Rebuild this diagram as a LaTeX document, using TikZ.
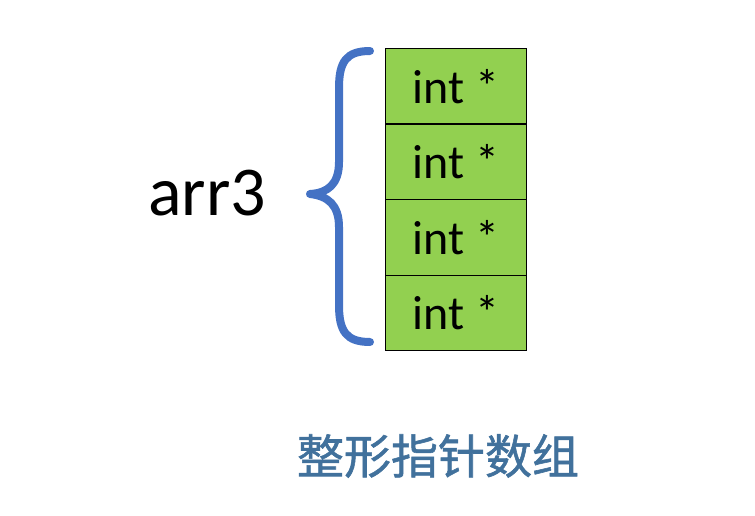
\documentclass[tikz,border=0pt]{standalone}
\usepackage{fontspec}
\setmainfont{Carlito}
\newfontfamily\cjk[FakeBold=1.2]{Noto Sans CJK SC}
\usepackage{tikz}
\usetikzlibrary{positioning}
\usepackage{xcolor}
\definecolor{cellgreen}{HTML}{92D050}
\definecolor{braceblue}{HTML}{4472C4}
\definecolor{titleblue}{HTML}{41719C}

\begin{document}
\begin{tikzpicture}[
    x=1pt, y=-1pt,
    cellnode/.style={draw=black, line width=1.2pt, fill=cellgreen, minimum width=141pt, minimum height=75.5pt, inner sep=0pt, anchor=north west, font=\fontsize{48}{54}\selectfont},
    bracepath/.style={draw=braceblue, line width=8pt, line cap=round, line join=round}
]

    % Cornice (proporzioni dell'immagine)
    \useasboundingbox (0,0) rectangle (755,516);

    % Celle dell'array
    \foreach \i in {1,...,4} {
        \node[cellnode] (c\i) at (385, {48+75.5*(\i-1)}) {int *};
    }

    % Parentesi graffa
    \draw[bracepath] (370,51) .. controls (346,51) and (339,62) .. (339,88)
        -- (339,162) .. controls (339,184) and (328,193) .. (310,194)
        .. controls (328,196) and (339,205) .. (339,227)
        -- (339,305) .. controls (339,331) and (346,342) .. (370,342);

    % Nome della variabile
    \node[anchor=base, font=\fontsize{70}{76}\selectfont] (arr) at (207,215) {arr3};

    % Didascalia
    \node[text=titleblue, font=\cjk\fontsize{47}{52}\selectfont] (cap) at (438,456) {整形指针数组};

\end{tikzpicture}
\end{document}
